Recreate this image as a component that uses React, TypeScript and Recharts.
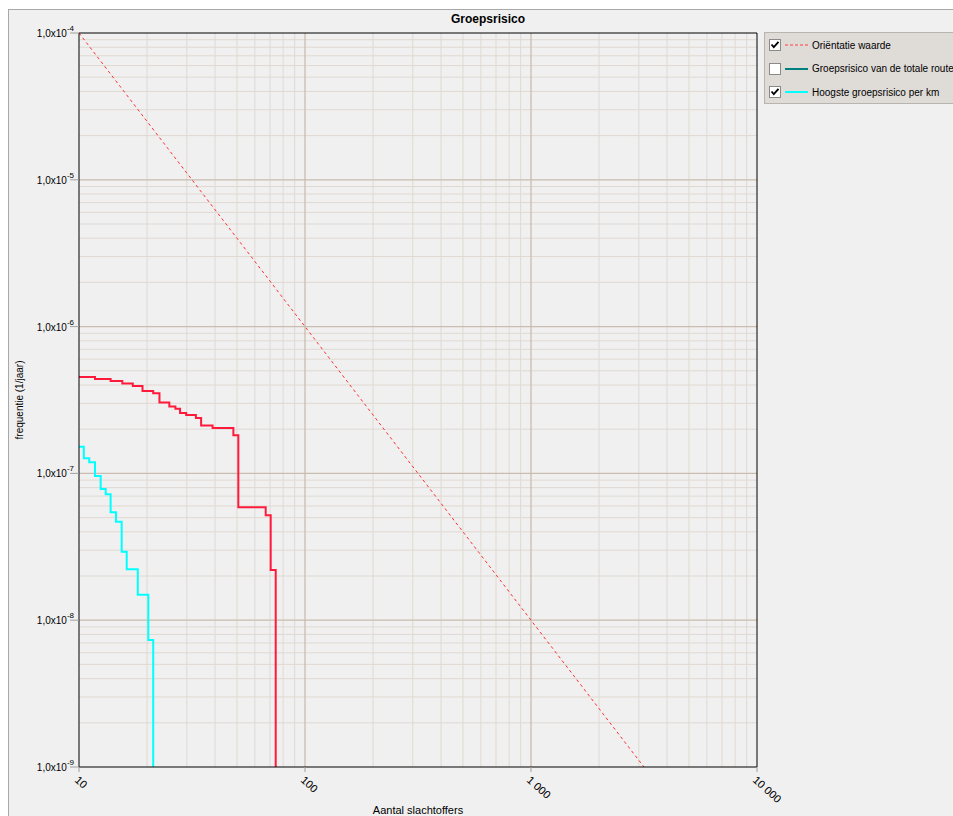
import React from 'react';
import { LineChart, Line, XAxis, YAxis, ReferenceLine } from 'recharts';

const xTicks = [10, 100, 1000, 10000];
const xTickLabels = ['10', '100', '1 000', '10 000'];
const yTicks = [1e-9, 1e-8, 1e-7, 1e-6, 1e-5, 1e-4];
const yTickExponents = ['-9', '-8', '-7', '-6', '-5', '-4'];

const xMajorGrid = [100, 1000];
const xMinorGrid = [20, 30, 40, 50, 60, 70, 80, 90, 200, 300, 400, 500, 600, 700, 800, 900, 2000, 3000, 4000, 5000, 6000, 7000, 8000, 9000];
const yMajorGrid = [1e-8, 1e-7, 1e-6, 1e-5];
const yMinorGrid = [
  2e-9, 3e-9, 4e-9, 5e-9, 6e-9, 7e-9, 8e-9, 9e-9,
  2e-8, 3e-8, 4e-8, 5e-8, 6e-8, 7e-8, 8e-8, 9e-8,
  2e-7, 3e-7, 4e-7, 5e-7, 6e-7, 7e-7, 8e-7, 9e-7,
  2e-6, 3e-6, 4e-6, 5e-6, 6e-6, 7e-6, 8e-6, 9e-6,
  2e-5, 3e-5, 4e-5, 5e-5, 6e-5, 7e-5, 8e-5, 9e-5,
];

const orientatieN = [10, 3162];
const orientatieF = [1e-4, 1e-9];

const groepsrisicoN = [10, 11.77, 13.8, 15.55, 17.3, 19.1, 21.3, 22.7, 25.1, 26.7, 28.0, 29.8, 32.9, 34.7, 39.0, 48.2, 50.7, 67.0, 70.5, 74.2];
const groepsrisicoF = [4.54e-7, 4.39e-7, 4.26e-7, 4.1e-7, 3.94e-7, 3.64e-7, 3.51e-7, 3.04e-7, 2.86e-7, 2.76e-7, 2.58e-7, 2.5e-7, 2.38e-7, 2.12e-7, 2.04e-7, 1.82e-7, 5.87e-8, 5.19e-8, 2.2e-8, 1e-9];

const perKmN = [10, 10.5, 11.1, 11.77, 12.47, 13.13, 13.8, 14.58, 15.45, 16.26, 18.2, 20.26, 21.3];
const perKmF = [1.52e-7, 1.27e-7, 1.19e-7, 9.6e-8, 7.83e-8, 7.2e-8, 5.43e-8, 4.69e-8, 2.93e-8, 2.22e-8, 1.49e-8, 7.33e-9, 1e-9];

const legendItems = [
  { label: 'Oriëntatie waarde', color: '#ff4040', dashed: true, checked: true },
  { label: 'Groepsrisico van de totale route', color: '#008080', dashed: false, checked: false },
  { label: 'Hoogste groepsrisico per km', color: '#00ffff', dashed: false, checked: true },
];

const toData = (ns: number[], fs: number[]) => ns.map((n, i) => ({ n, f: fs[i] }));
const orientatieData = toData(orientatieN, orientatieF);
const groepsrisicoData = toData(groepsrisicoN, groepsrisicoF);
const perKmData = toData(perKmN, perKmF);

const FONT = '"Liberation Sans", Arial, sans-serif';

const YTick = (props: any) => {
  const { y, index } = props;
  return (
    <text x={74} y={y + 4} textAnchor="end" fontSize={10} fill="#000" fontFamily={FONT}>
      1,0x10
      <tspan dy={-6} fontSize={8}>{yTickExponents[index]}</tspan>
    </text>
  );
};

const XTick = (props: any) => {
  const { x, y, index } = props;
  const ax = x - 5;
  const ay = y + 9;
  return (
    <text x={ax} y={ay} transform={`rotate(42, ${ax}, ${ay})`} textAnchor="start" fontSize={11} fill="#000" fontFamily={FONT}>
      {xTickLabels[index]}
    </text>
  );
};

const CheckBox = ({ checked }: { checked: boolean }) => (
  <svg width={12} height={12} style={{ display: 'block' }}>
    <rect x={0.5} y={0.5} width={11} height={11} fill="#fff" stroke="#8a8a8a" />
    {checked && <path d="M2.5 5.5 L4.8 8.2 L9.5 2.8" stroke="#000" strokeWidth={1.8} fill="none" />}
  </svg>
);

export default function App() {
  return (
    <div style={{ position: 'fixed', left: 0, top: 0, width: 953, height: 816, overflow: 'hidden', background: '#fff' }}>
      <div style={{ position: 'absolute', left: 8, top: 9, width: 1000, height: 900, border: '1px solid #a8a8a8', background: '#f0f0f0' }} />
      <div style={{ position: 'absolute', left: 0, top: 0 }}>
        <LineChart width={953} height={830} margin={{ top: 33, right: 196, bottom: 0, left: 0 }}>
          <XAxis
            dataKey="n"
            type="number"
            scale="log"
            domain={[10, 10000]}
            ticks={xTicks}
            allowDataOverflow
            height={63}
            tickSize={5}
            tickMargin={0}
            axisLine={{ stroke: '#000', strokeWidth: 1 }}
            tickLine={{ stroke: '#a0a0a0' }}
            tick={<XTick />}
            interval={0}
          />
          <YAxis
            dataKey="f"
            type="number"
            scale="log"
            domain={[1e-9, 1e-4]}
            ticks={yTicks}
            allowDataOverflow
            width={79}
            tickSize={9}
            tickMargin={0}
            axisLine={{ stroke: '#000', strokeWidth: 1 }}
            tickLine={{ stroke: '#a0a0a0' }}
            tick={<YTick />}
            interval={0}
          />
          {xMinorGrid.map((v) => (
            <ReferenceLine key={'xm' + v} x={v} stroke="#e0d9d2" strokeWidth={1} />
          ))}
          {yMinorGrid.map((v) => (
            <ReferenceLine key={'ym' + v} y={v} stroke="#e0d9d2" strokeWidth={1} />
          ))}
          {xMajorGrid.map((v) => (
            <ReferenceLine key={'xM' + v} x={v} stroke="#c9bcae" strokeWidth={1.3} />
          ))}
          {yMajorGrid.map((v) => (
            <ReferenceLine key={'yM' + v} y={v} stroke="#c9bcae" strokeWidth={1.3} />
          ))}
          <ReferenceLine x={10000} stroke="#000" strokeWidth={1} />
          <ReferenceLine y={1e-4} stroke="#000" strokeWidth={1} />
          <Line
            data={orientatieData}
            dataKey="f"
            type="linear"
            stroke="#ff3030"
            strokeWidth={1}
            strokeDasharray="3 3"
            dot={false}
            isAnimationActive={false}
          />
          <Line
            data={groepsrisicoData}
            dataKey="f"
            type="stepAfter"
            stroke="#ff1a3c"
            strokeWidth={2}
            dot={false}
            isAnimationActive={false}
          />
          <Line
            data={perKmData}
            dataKey="f"
            type="stepAfter"
            stroke="#00ffff"
            strokeWidth={2}
            dot={false}
            isAnimationActive={false}
          />
        </LineChart>
      </div>
      <div style={{ position: 'absolute', left: 388, width: 200, top: 12, textAlign: 'center', fontFamily: FONT, fontSize: 12, fontWeight: 'bold', color: '#000' }}>
        Groepsrisico
      </div>
      <div style={{ position: 'absolute', left: 19, top: 400, transform: 'translate(-50%, -50%) rotate(-90deg)', whiteSpace: 'nowrap', fontFamily: FONT, fontSize: 10, color: '#000' }}>
        frequentie (1/jaar)
      </div>
      <div style={{ position: 'absolute', left: 79, width: 678, top: 804, textAlign: 'center', fontFamily: FONT, fontSize: 11, color: '#000' }}>
        Aantal slachtoffers
      </div>
      <div style={{ position: 'absolute', left: 764, top: 32, width: 220, height: 70, background: '#dfdbd7', border: '1px solid #b8b4b0', fontFamily: FONT, fontSize: 10, color: '#000' }}>
        {legendItems.map((it, i) => (
          <div key={i} style={{ position: 'absolute', left: 4, top: 6 + i * 23.5, height: 12, display: 'flex', alignItems: 'center', whiteSpace: 'nowrap' }}>
            <CheckBox checked={it.checked} />
            <svg width={24} height={12} style={{ display: 'block', marginLeft: 4 }}>
              <line x1={0} y1={6} x2={23} y2={6} stroke={it.color} strokeWidth={it.dashed ? 1 : 2} strokeDasharray={it.dashed ? '3 2' : undefined} />
            </svg>
            <span style={{ marginLeft: 3 }}>{it.label}</span>
          </div>
        ))}
      </div>
    </div>
  );
}
